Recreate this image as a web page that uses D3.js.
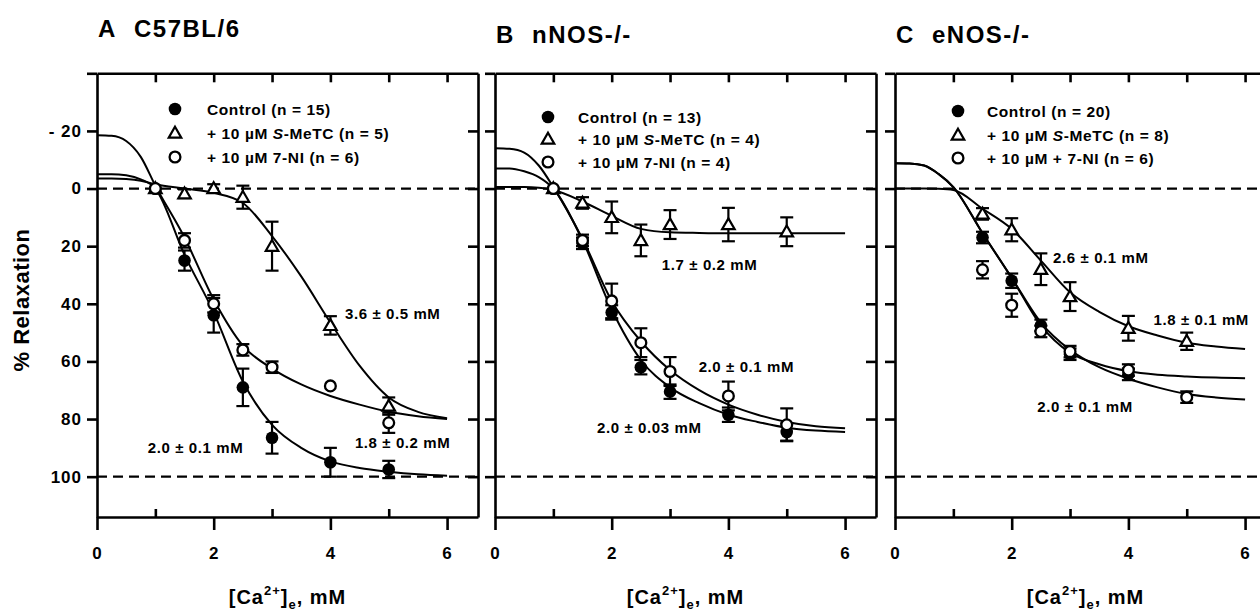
<!DOCTYPE html>
<html><head><meta charset="utf-8">
<script src="https://cdn.jsdelivr.net/npm/d3@7/dist/d3.min.js"></script>
<style>
body{margin:0;background:#fff}
svg{display:block;font-family:"Liberation Sans",Arial,sans-serif}
</style></head><body>
<svg id="chart" width="1260" height="611"></svg>
<script>
// Ca2+ concentrations (mM) where the rings were measured
var doses = [1, 1.5, 2, 2.5, 3, 4, 5];
// x positions of the points
var curveX = [0, 0.25, 0.5, 0.75, 1, 1.5, 2, 2.5, 3, 3.5, 4, 4.5, 5, 5.5, 6];

var yTicks = [-40, -20, 0, 20, 40, 60, 80, 100];
var xMajor = [0, 2, 4, 6];
var xMinor = [1, 3, 5];
var topTicks = [1, 2, 3, 4, 5, 6];

// A  C57BL/6
var aControl = [0, 25, 44, 69, 86.5, 95, 97.5];
var aControlErr = [1, 3.5, 6, 6.5, 5.5, 5, 3];
var aMetc = [0, 1.8, 0, 3, 20, 47.5, 75.5];
var aMetcErr = [1, 1.5, 1.5, 4, 8.5, 3.2, 3];
var aNi = [0, 18, 40, 56, 62, 68.5, 81.3];
var aNiErr = [1, 2.5, 3, 2, 2, 1, 3.5];
var aControlFit = [-5, -5, -4.6, -3.2, 0, 23, 43, 67, 82, 90, 94.7, 97, 98.3, 99.2, 99.7];
var aMetcFit = [-3.5, -3.5, -3.3, -2.7, -1.5, 0, 1.5, 5, 16.5, 30.5, 46.5, 61.5, 72.5, 77.5, 79.7];
var aNiFit = [-18.5, -18.3, -16.5, -11, -1, 17, 38.5, 54.5, 62.5, 68, 72, 75, 77.5, 79, 80];

// B  nNOS-/-
var bControl = [0, 19, 43, 62, 70.5, 78.5, 84.5];
var bControlErr = [1, 2, 2.5, 2.5, 2.5, 2.5, 3];
var bMetc = [0, 5, 10, 18, 12.5, 12.5, 15];
var bMetcErr = [1, 2, 5.5, 5.5, 5, 5.8, 5];
var bNi = [0, 18, 39, 53.5, 63.5, 72, 82];
var bNiErr = [1, 2, 6, 5, 5, 5, 5.7];
var bControlFit = [-7, -7, -6, -4, 0, 18, 42, 59.5, 69, 74.5, 78.5, 81, 83, 84, 84.5];
var bMetcFit = [-0.5, -0.5, -0.5, -0.3, 0.5, 4.5, 9.5, 14, 15.2, 15.4, 15.5, 15.5, 15.5, 15.5, 15.5];
var bNiFit = [-14, -13.8, -12.5, -8, -0.5, 17.5, 39, 53, 63, 70, 75, 78.5, 81, 82.5, 83.2];

// C  eNOS-/-
var cControl = [null, 17, 32, 47.5, 57.5, 64.5, null];
var cControlErr = [0, 2, 2.5, 2, 2, 2, 0];
var cMetc = [null, 8.8, 14.3, 28, 37.5, 48.5, 53];
var cMetcErr = [0, 2, 4, 5.5, 5, 4.3, 3];
var cNi = [null, 28.2, 40.5, 49.6, 56.6, 63, 72.4];
var cNiErr = [0, 3, 4, 2, 2, 2, 2];
var cControlFit = [-8.8, -8.7, -8, -5, -0.5, 15.5, 31, 47.5, 57, 61, 63.4, 64.6, 65.2, 65.6, 65.8];
var cMetcFit = [0, 0, 0, 0.1, 0.5, 7, 14, 25, 36, 42.8, 47.8, 51, 53.5, 54.8, 55.7];
var cNiFit = [-8.8, -8.7, -8, -5, -0.5, 15.5, 31, 46.5, 56, 62, 66, 69, 71.3, 72.5, 73.2];

var panels = [
	{ letter: 'A', name: 'C57BL/6', left: 97, titleY: 37,
	  legend: { mx: 78, tx: 110, rows: [109, 133, 157] },
	  labels: ['Control (n = 15)', ['+ 10 µM ', 'S', '-MeTC (n = 5)'], '+ 10 µM 7-NI (n = 6)'],
	  control: [aControl, aControlErr, aControlFit],
	  metc: [aMetc, aMetcErr, aMetcFit],
	  ni: [aNi, aNiErr, aNiFit],
	  notes: [['3.6 ± 0.5 mM', 4.25, 43.2], ['2.0 ± 0.1 mM', 0.87, 90], ['1.8 ± 0.2 mM', 4.42, 88.2]],
	  yLabels: true },
	{ letter: 'B', name: 'nNOS-/-', left: 495, titleY: 43,
	  legend: { mx: 53, tx: 83, rows: [117, 139, 162] },
	  labels: ['Control (n = 13)', ['+ 10 µM ', 'S', '-MeTC (n = 4)'], '+ 10 µM 7-NI (n = 4)'],
	  control: [bControl, bControlErr, bControlFit],
	  metc: [bMetc, bMetcErr, bMetcFit],
	  ni: [bNi, bNiErr, bNiFit],
	  notes: [['1.7 ± 0.2 mM', 2.86, 26.5], ['2.0 ± 0.1 mM', 3.49, 61.8], ['2.0 ± 0.03 mM', 1.75, 83.1]],
	  yLabels: false },
	{ letter: 'C', name: 'eNOS-/-', left: 895, titleY: 43,
	  legend: { mx: 63, tx: 92, rows: [111, 135, 158] },
	  labels: ['Control (n = 20)', ['+ 10 µM ', 'S', '-MeTC (n = 8)'], '+ 10 µM + 7-NI (n = 6)'],
	  control: [cControl, cControlErr, cControlFit],
	  metc: [cMetc, cMetcErr, cMetcFit],
	  ni: [cNi, cNiErr, cNiFit],
	  notes: [['2.6 ± 0.1 mM', 2.71, 24], ['1.8 ± 0.1 mM', 4.43, 45.6], ['2.0 ± 0.1 mM', 2.44, 75.6]],
	  yLabels: false }
];

var svg = d3.select('#chart');
var W = 381;
var x = d3.scaleLinear().domain([0, 6.53]).range([0, W]);
var y = d3.scaleLinear().domain([-40, 114]).range([73.3, 517]);

var line = d3.line()
	.x(function(d) { return x(d[0]); })
	.y(function(d) { return y(d[1]); })
	.curve(d3.curveMonotoneX);

function marker(g, kind, cx, cy) {
	if (kind == 'control') {
		g.append('circle').attr('cx', cx).attr('cy', cy).attr('r', 6.3).attr('fill', '#000');
	} else if (kind == 'ni') {
		g.append('circle').attr('cx', cx).attr('cy', cy).attr('r', 5.4)
			.attr('fill', '#fff').attr('stroke', '#000').attr('stroke-width', 2.3);
	} else {
		g.append('path').attr('d', d3.symbol().type(d3.symbolTriangle).size(68)())
			.attr('transform', 'translate(' + cx + ',' + (cy + 1) + ')')
			.attr('fill', '#fff').attr('stroke', '#000').attr('stroke-width', 2.2);
	}
}

panels.forEach(function(p) {
	var g = svg.append('g').attr('transform', 'translate(' + p.left + ',0)');

	// title
	var t = g.append('text').attr('x', 1).attr('y', p.titleY)
		.attr('font-size', 24).attr('font-weight', 'bold').attr('letter-spacing', 1.5);
	t.append('tspan').text(p.letter);
	t.append('tspan').attr('x', 37).text(p.name);

	// dashed reference lines
	[0, 100].forEach(function(v) {
		g.append('line').attr('x1', 0).attr('x2', W).attr('y1', y(v)).attr('y2', y(v))
			.attr('stroke', '#000').attr('stroke-width', 2.2).attr('stroke-dasharray', '10,6');
	});

	// axes
	var left = g.append('g').call(d3.axisLeft(y).tickValues(yTicks).tickSize(10).tickSizeOuter(0)
		.tickFormat(function(d) { return !p.yLabels || d == -40 ? '' : (d < 0 ? '- ' + (-d) : d); }));
	var right = g.append('g').attr('transform', 'translate(' + W + ',0)')
		.call(d3.axisLeft(y).tickValues(yTicks.slice(1)).tickSize(10).tickSizeOuter(0).tickFormat(''));
	var top = g.append('g').attr('transform', 'translate(0,' + y(-40) + ')')
		.call(d3.axisTop(x).tickValues(topTicks).tickSize(-9).tickSizeOuter(0).tickFormat(''));
	var bottom = g.append('g').attr('transform', 'translate(0,' + y(114) + ')')
		.call(d3.axisBottom(x).tickValues(xMajor).tickSize(13).tickSizeOuter(0).tickPadding(17)
			.tickFormat(d3.format('d')));
	var minor = g.append('g').attr('transform', 'translate(0,' + y(114) + ')')
		.call(d3.axisBottom(x).tickValues(xMinor).tickSize(-8).tickSizeOuter(0).tickFormat(''));
	minor.select('.domain').remove();

	[left, right, top, bottom, minor].forEach(function(a) {
		a.selectAll('path, line').attr('stroke', '#000').attr('stroke-width', 2.6);
		a.selectAll('text').attr('fill', '#000').attr('font-size', 17).attr('font-weight', 'bold')
			.attr('font-family', '"Liberation Sans", Arial, sans-serif').attr('letter-spacing', 1);
	});
	left.selectAll('text').attr('dx', -2);

	// axis titles
	var xt = g.append('text').attr('x', W / 2).attr('y', 604).attr('text-anchor', 'middle')
		.attr('font-size', 20).attr('font-weight', 'bold').attr('letter-spacing', 1);
	xt.append('tspan').text('[Ca');
	xt.append('tspan').attr('font-size', 13).attr('dy', -9).text('2+');
	xt.append('tspan').attr('dy', 9).text(']');
	xt.append('tspan').attr('font-size', 13).attr('dy', 5).text('e');
	xt.append('tspan').attr('dy', -5).text(', mM');

	if (p.yLabels) {
		g.append('text').attr('transform', 'translate(' + (-68) + ',' + 300 + ') rotate(-90)')
			.attr('text-anchor', 'middle').attr('font-size', 22).attr('font-weight', 'bold')
			.attr('letter-spacing', 0.5).text('% Relaxation');
	}

	// fitted curves
	[p.control, p.metc, p.ni].forEach(function(s) {
		g.append('path').datum(curveX.map(function(v, i) { return [v, s[2][i]]; }))
			.attr('d', line).attr('fill', 'none').attr('stroke', '#000').attr('stroke-width', 2);
	});

	// error bars, then markers
	var sets = [['control', p.control], ['metc', p.metc], ['ni', p.ni]];
	sets.forEach(function(s) {
		var vals = s[1][0], errs = s[1][1];
		doses.forEach(function(d, i) {
			if (vals[i] == null || errs[i] < 1.5) return;
			var cx = x(d), y1 = y(vals[i] - errs[i]), y2 = y(vals[i] + errs[i]);
			g.append('line').attr('x1', cx).attr('x2', cx).attr('y1', y1).attr('y2', y2)
				.attr('stroke', '#000').attr('stroke-width', 2.2);
			[y1, y2].forEach(function(yy) {
				g.append('line').attr('x1', cx - 6.5).attr('x2', cx + 6.5).attr('y1', yy).attr('y2', yy)
					.attr('stroke', '#000').attr('stroke-width', 2.2);
			});
		});
	});
	sets.forEach(function(s) {
		var vals = s[1][0];
		doses.forEach(function(d, i) {
			if (vals[i] == null) return;
			marker(g, s[0], x(d), y(vals[i]));
		});
	});

	// legend
	['control', 'metc', 'ni'].forEach(function(k, i) {
		var ry = p.legend.rows[i];
		marker(g, k, p.legend.mx, ry);
		var lt = g.append('text').attr('x', p.legend.tx).attr('y', ry + 5.5)
			.attr('font-size', 15.5).attr('font-weight', 'bold').attr('letter-spacing', 0.6);
		var lab = p.labels[i];
		if (typeof lab == 'string') {
			lt.text(lab);
		} else {
			lt.append('tspan').text(lab[0]);
			lt.append('tspan').attr('font-style', 'italic').text(lab[1]);
			lt.append('tspan').text(lab[2]);
		}
	});

	// EC50 notes
	p.notes.forEach(function(n) {
		g.append('text').attr('x', x(n[1])).attr('y', y(n[2]) + 5.5)
			.attr('font-size', 15).attr('font-weight', 'bold').attr('letter-spacing', 0.6)
			.text(n[0]);
	});
});
</script>
</body></html>
